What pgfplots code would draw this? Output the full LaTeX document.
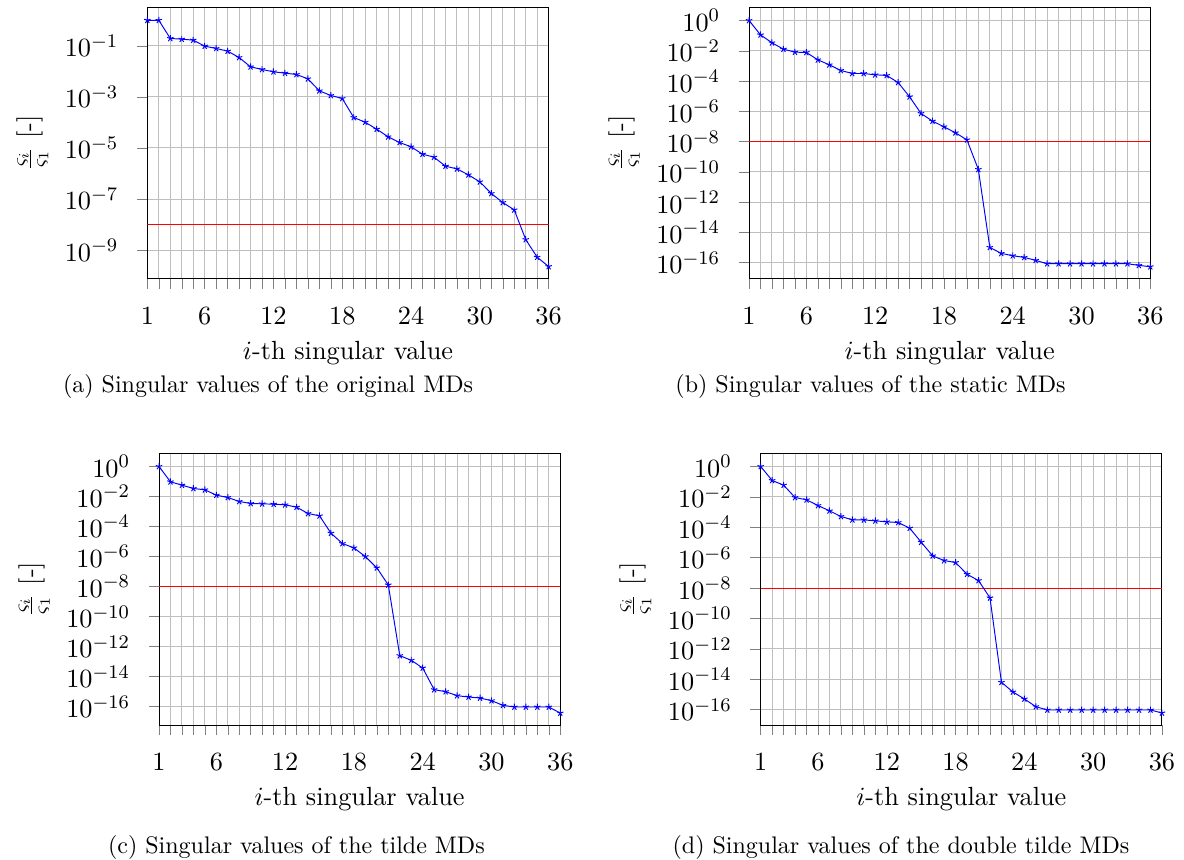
\documentclass[border=0pt]{standalone}
\usepackage{pgfplots}
\pgfplotsset{compat=1.18}
\begin{document}
\begin{tikzpicture}
\path[use as bounding box] (0pt,0pt) rectangle (493.33pt,358.33pt);
% (a)
\begin{axis}[scale only axis, width=167.2pt, height=113pt,
    ymode=log, xmin=1, xmax=36,
    xtick={1,6,12,18,24,30,36}, minor xtick={1,...,36},
    xmajorgrids, xminorgrids, ymajorgrids, yminorticks=false,
    tick align=outside, xtick pos=left, ytick pos=left,
    major tick length=0.15cm, minor tick length=0.15cm,
    xticklabel shift=4.27pt, yticklabel shift=4.27pt,
    tick label style={font=\fontsize{10.95}{13.6}\selectfont},
    label style={font=\fontsize{10.95}{13.6}\selectfont},
    xlabel={$i$-th singular value},
    ylabel={$\frac{\varsigma_i}{\varsigma_1}$ [-]},
    anchor=south west, at={(61.4pt,242.2pt)}, ymin=7.6e-11, ymax=3.162,
  ytick={1e-1,1e-3,1e-5,1e-7,1e-9}]
\addplot[red, thin, no marks] coordinates {(1,1e-8) (36,1e-8)};
\addplot[blue, mark=star, mark size=1.4pt, thin] coordinates {
(1,1.0) (2,1.0) (3,0.194) (4,0.182) (5,0.167) (6,0.097) (7,0.0787) (8,0.0618)
(9,0.0349) (10,0.01506) (11,0.01184) (12,0.00959) (13,0.00851) (14,0.00754)
(15,0.00510) (16,0.00173) (17,0.001135) (18,0.000865) (19,1.56e-4) (20,1.02e-4)
(21,5.44e-5) (22,2.73e-5) (23,1.64e-5) (24,1.11e-5) (25,5.71e-6) (26,4.36e-6)
(27,1.94e-6) (28,1.52e-6) (29,8.87e-7) (30,4.72e-7) (31,1.65e-7) (32,7.31e-8)
(33,3.77e-8) (34,2.60e-9) (35,5.28e-10) (36,2.28e-10)};
\end{axis}
% (b)
\begin{axis}[scale only axis, width=167.2pt, height=113pt,
    ymode=log, xmin=1, xmax=36,
    xtick={1,6,12,18,24,30,36}, minor xtick={1,...,36},
    xmajorgrids, xminorgrids, ymajorgrids, yminorticks=false,
    tick align=outside, xtick pos=left, ytick pos=left,
    major tick length=0.15cm, minor tick length=0.15cm,
    xticklabel shift=4.27pt, yticklabel shift=4.27pt,
    tick label style={font=\fontsize{10.95}{13.6}\selectfont},
    label style={font=\fontsize{10.95}{13.6}\selectfont},
    xlabel={$i$-th singular value},
    ylabel={$\frac{\varsigma_i}{\varsigma_1}$ [-]},
    anchor=south west, at={(312.1pt,242.2pt)}, ymin=8.81e-18, ymax=7.21,
  ytick={1,1e-2,1e-4,1e-6,1e-8,1e-10,1e-12,1e-14,1e-16}]
\addplot[red, thin, no marks] coordinates {(1,1e-8) (36,1e-8)};
\addplot[blue, mark=star, mark size=1.4pt, thin] coordinates {
(1,1) (2,0.1132) (3,0.03357) (4,0.01279) (5,8.11e-3) (6,7.71e-3) (7,2.53e-3)
(8,1.183e-3) (9,5.0e-4) (10,3.17e-4) (11,3.15e-4) (12,2.59e-4) (13,2.34e-4)
(14,8.07e-5) (15,9.12e-6) (16,7.24e-7) (17,2.26e-7) (18,9.55e-8) (19,3.84e-8)
(20,1.32e-8) (21,1.46e-10) (22,1.03e-15) (23,4.14e-16) (24,2.90e-16)
(25,2.25e-16) (26,1.43e-16) (27,8.61e-17) (28,8.61e-17) (29,8.61e-17)
(30,8.61e-17) (31,8.61e-17) (32,8.61e-17) (33,8.61e-17) (34,8.61e-17)
(35,6.68e-17) (36,5.46e-17)};
\end{axis}
% (c)
\begin{axis}[scale only axis, width=167.2pt, height=113pt,
    ymode=log, xmin=1, xmax=36,
    xtick={1,6,12,18,24,30,36}, minor xtick={1,...,36},
    xmajorgrids, xminorgrids, ymajorgrids, yminorticks=false,
    tick align=outside, xtick pos=left, ytick pos=left,
    major tick length=0.15cm, minor tick length=0.15cm,
    xticklabel shift=4.27pt, yticklabel shift=4.27pt,
    tick label style={font=\fontsize{10.95}{13.6}\selectfont},
    label style={font=\fontsize{10.95}{13.6}\selectfont},
    xlabel={$i$-th singular value},
    ylabel={$\frac{\varsigma_i}{\varsigma_1}$ [-]},
    anchor=south west, at={(66.25pt,56.25pt)}, ymin=6.03e-18, ymax=6.98,
  ytick={1,1e-2,1e-4,1e-6,1e-8,1e-10,1e-12,1e-14,1e-16}]
\addplot[red, thin, no marks] coordinates {(1,1e-8) (36,1e-8)};
\addplot[blue, mark=star, mark size=1.4pt, thin] coordinates {
(1,1) (2,0.0951) (3,0.0570) (4,0.0341) (5,0.0278) (6,0.01227) (7,8.57e-3)
(8,4.65e-3) (9,3.41e-3) (10,3.24e-3) (11,3.08e-3) (12,2.78e-3) (13,1.95e-3)
(14,7.36e-4) (15,5.14e-4) (16,3.60e-5) (17,7.36e-6) (18,3.78e-6) (19,1.0e-6)
(20,1.75e-7) (21,1.29e-8) (22,2.51e-13) (23,1.23e-13) (24,3.78e-14)
(25,1.36e-15) (26,1.0e-15) (27,5.41e-16) (28,4.41e-16) (29,3.78e-16)
(30,2.51e-16) (31,1.23e-16) (32,9.5e-17) (33,9.5e-17) (34,9.5e-17)
(35,9.5e-17) (36,3.78e-17)};
\end{axis}
% (d)
\begin{axis}[scale only axis, width=167.2pt, height=113pt,
    ymode=log, xmin=1, xmax=36,
    xtick={1,6,12,18,24,30,36}, minor xtick={1,...,36},
    xmajorgrids, xminorgrids, ymajorgrids, yminorticks=false,
    tick align=outside, xtick pos=left, ytick pos=left,
    major tick length=0.15cm, minor tick length=0.15cm,
    xticklabel shift=4.27pt, yticklabel shift=4.27pt,
    tick label style={font=\fontsize{10.95}{13.6}\selectfont},
    label style={font=\fontsize{10.95}{13.6}\selectfont},
    xlabel={$i$-th singular value},
    ylabel={$\frac{\varsigma_i}{\varsigma_1}$ [-]},
    anchor=south west, at={(316.95pt,56.25pt)}, ymin=9.77e-18, ymax=6.82,
  ytick={1,1e-2,1e-4,1e-6,1e-8,1e-10,1e-12,1e-14,1e-16}]
\addplot[red, thin, no marks] coordinates {(1,1e-8) (36,1e-8)};
\addplot[blue, mark=star, mark size=1.4pt, thin] coordinates {
(1,1) (2,0.1197) (3,0.0590) (4,9.1e-3) (5,6.38e-3) (6,2.70e-3) (7,1.205e-3)
(8,5.11e-4) (9,3.08e-4) (10,3.05e-4) (11,2.64e-4) (12,2.27e-4) (13,2.06e-4)
(14,8.69e-5) (15,1.04e-5) (16,1.31e-6) (17,6.46e-7) (18,4.78e-7) (19,8.13e-8)
(20,3.11e-8) (21,2.25e-9) (22,6.30e-15) (23,1.46e-15) (24,5.04e-16)
(25,1.57e-16) (26,9.48e-17) (27,9.48e-17) (28,9.48e-17) (29,9.48e-17)
(30,9.48e-17) (31,9.48e-17) (32,9.48e-17) (33,9.48e-17) (34,9.48e-17)
(35,9.48e-17) (36,6.03e-17)};
\end{axis}
\node[anchor=base] at (111.7pt,194.6pt) {(a) Singular values of the original MDs};
\node[anchor=base] at (362.7pt,194.6pt) {(b) Singular values of the static MDs};
\node[anchor=base] at (123.5pt,2.5pt) {(c) Singular values of the tilde MDs};
\node[anchor=base] at (375.4pt,2.5pt) {(d) Singular values of the double tilde MDs};
\end{tikzpicture}
\end{document}
